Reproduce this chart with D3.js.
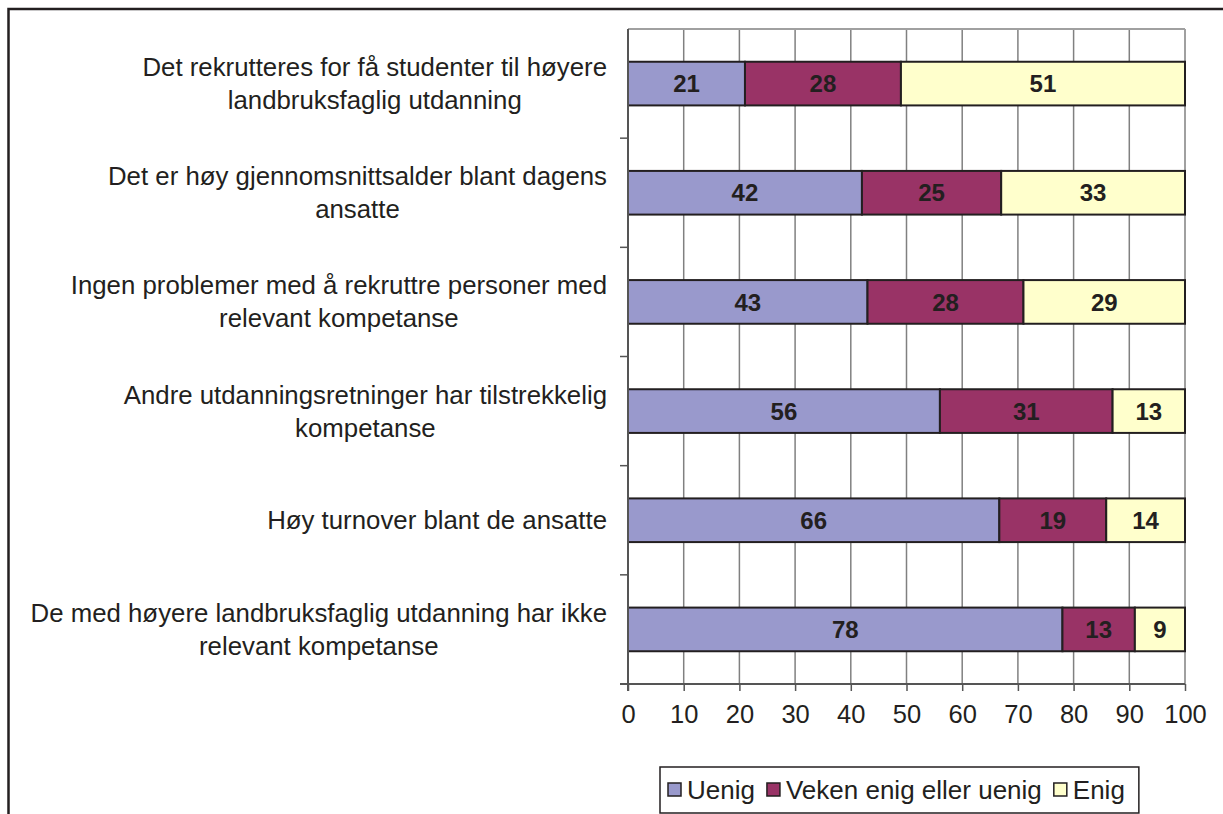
<!DOCTYPE html>
<html>
<head>
<meta charset="utf-8">
<script src="https://cdn.jsdelivr.net/npm/d3@7"></script>
<style>
  body { margin: 0; background: #fff; }
  text { font-family: "Liberation Sans", Arial, sans-serif; fill: #231f20; }
</style>
</head>
<body>
<script>
// categories, each one split in lines the way the chart wraps them
let categories = [
    ["Det rekrutteres for få studenter til høyere", "landbruksfaglig utdanning"],
    ["Det er høy gjennomsnittsalder blant dagens", "ansatte"],
    ["Ingen problemer med å rekruttre personer med", "relevant kompetanse"],
    ["Andre utdanningsretninger har tilstrekkelig", "kompetanse"],
    ["Høy turnover blant de ansatte"],
    ["De med høyere landbruksfaglig utdanning har ikke", "relevant kompetanse"]
]
let seriesNames = ["Uenig", "Veken enig eller uenig", "Enig"]
let uenig = [21, 42, 43, 56, 66, 78]
let veken = [28, 25, 28, 31, 19, 13]
let enig = [51, 33, 29, 13, 14, 9]
let xTicks = [0, 10, 20, 30, 40, 50, 60, 70, 80, 90, 100]

let colors = ["#9999cc", "#993366", "#ffffcc"]

let width = 1223
let height = 814
let plotLeft = 628
let plotRight = 1185
let plotTop = 29
let plotBottom = 684

let rows = categories.map((c, i) => {
    return { key: i, Uenig: uenig[i], "Veken enig eller uenig": veken[i], Enig: enig[i] }
})

let svg = d3.select("body")
            .append("svg")
            .attr("width", width)
            .attr("height", height)

// outer frame (runs off the right and bottom of the picture)
svg.append("rect")
    .attr("x", 8.5)
    .attr("y", 9)
    .attr("width", 1400)
    .attr("height", 1000)
    .attr("fill", "none")
    .attr("stroke", "#231f20")
    .attr("stroke-width", 2.5)

let xScale = d3.scaleLinear()
                .domain([0, 1])
                .range([plotLeft, plotRight])

let yScale = d3.scaleBand()
                .domain(rows.map(r => r.key))
                .range([plotTop, plotBottom])
                .paddingInner(0.6)
                .paddingOuter(0.3)

let bandScale = d3.scaleBand()
                .domain(rows.map(r => r.key))
                .range([plotTop, plotBottom])

// gridlines
svg.append("g")
    .selectAll("line")
    .data(xTicks.slice(1))
    .enter()
    .append("line")
    .attr("x1", d => xScale(d / 100))
    .attr("x2", d => xScale(d / 100))
    .attr("y1", plotTop)
    .attr("y2", plotBottom)
    .attr("stroke", "#808080")
    .attr("stroke-width", 1.5)

// top and right border of plot area
svg.append("line")
    .attr("x1", plotLeft)
    .attr("x2", plotRight)
    .attr("y1", plotTop)
    .attr("y2", plotTop)
    .attr("stroke", "#a0a0a0")
    .attr("stroke-width", 2)

svg.append("line")
    .attr("x1", plotRight)
    .attr("x2", plotRight)
    .attr("y1", plotTop)
    .attr("y2", plotBottom)
    .attr("stroke", "#a0a0a0")
    .attr("stroke-width", 2)

let stack = d3.stack()
                .keys(seriesNames)
                .offset(d3.stackOffsetExpand)
let stacked = stack(rows)

let layers = svg.append("g")
                .selectAll("g")
                .data(stacked)
                .enter()
                .append("g")
                .attr("fill", (d, i) => colors[i])

layers.selectAll("rect")
    .data(d => d)
    .enter()
    .append("rect")
    .attr("x", d => xScale(d[0]))
    .attr("width", d => xScale(d[1]) - xScale(d[0]))
    .attr("y", d => yScale(d.data.key))
    .attr("height", yScale.bandwidth())
    .attr("stroke", "#231f20")
    .attr("stroke-width", 2)

layers.selectAll("text")
    .data(d => d.map(p => ({ p: p, key: d.key })))
    .enter()
    .append("text")
    .attr("x", d => (xScale(d.p[0]) + xScale(d.p[1])) / 2)
    .attr("y", d => yScale(d.p.data.key) + yScale.bandwidth() / 2)
    .attr("dy", "0.36em")
    .attr("text-anchor", "middle")
    .style("font-size", "24px")
    .style("font-weight", "bold")
    .text(d => d.p.data[d.key])

// x axis
let xAxis = d3.axisBottom(xScale)
                .tickValues(xTicks.map(t => t / 100))
                .tickFormat(t => Math.round(t * 100))
                .tickSize(7)
                .tickPadding(14)

let gx = svg.append("g")
    .attr("transform", "translate(0," + plotBottom + ")")
    .call(xAxis)
gx.select(".domain").remove()
gx.selectAll("line").attr("stroke", "#555").attr("stroke-width", 1.5)
gx.selectAll("text").style("font-size", "25.5px").attr("fill", "#231f20")

svg.append("line")
    .attr("x1", plotLeft - 8)
    .attr("x2", plotRight)
    .attr("y1", plotBottom)
    .attr("y2", plotBottom)
    .attr("stroke", "#555")
    .attr("stroke-width", 2)

// y axis
svg.append("line")
    .attr("x1", plotLeft)
    .attr("x2", plotLeft)
    .attr("y1", plotTop)
    .attr("y2", plotBottom + 7)
    .attr("stroke", "#555")
    .attr("stroke-width", 2)

svg.append("g")
    .selectAll("line")
    .data(rows.slice(1))
    .enter()
    .append("line")
    .attr("x1", plotLeft - 8)
    .attr("x2", plotLeft)
    .attr("y1", d => bandScale(d.key))
    .attr("y2", d => bandScale(d.key))
    .attr("stroke", "#555")
    .attr("stroke-width", 1.5)

// category labels, lines centred on each other, block right aligned
let labelRight = 607
let lineGap = 33
categories.forEach((lines, i) => {
    let cy = bandScale(i) + bandScale.bandwidth() / 2
    let g = svg.append("g")
    let texts = g.selectAll("text")
        .data(lines)
        .enter()
        .append("text")
        .attr("y", (d, j) => cy + (j - (lines.length - 1) / 2) * lineGap)
        .attr("dy", "0.35em")
        .attr("text-anchor", "middle")
        .style("font-size", "25.8px")
        .text(d => d)
    let maxW = d3.max(texts.nodes(), n => n.getComputedTextLength())
    texts.attr("x", labelRight - maxW / 2)
})

// legend
let legend = svg.append("g")
let legendBox = legend.append("rect")
    .attr("x", 660)
    .attr("y", 767)
    .attr("height", 46)
    .attr("fill", "#fff")
    .attr("stroke", "#231f20")
    .attr("stroke-width", 1.5)

let lx = 668
seriesNames.forEach((name, i) => {
    legend.append("rect")
        .attr("x", lx)
        .attr("y", 783)
        .attr("width", 13)
        .attr("height", 13)
        .attr("fill", colors[i])
        .attr("stroke", "#231f20")
        .attr("stroke-width", 1.5)
    let t = legend.append("text")
        .attr("x", lx + 19)
        .attr("y", 790)
        .attr("dy", "0.35em")
        .style("font-size", "26px")
        .text(name)
    lx = lx + 19 + t.node().getComputedTextLength() + 12
})
legendBox.attr("width", lx - 660 + 2)
</script>
</body>
</html>
